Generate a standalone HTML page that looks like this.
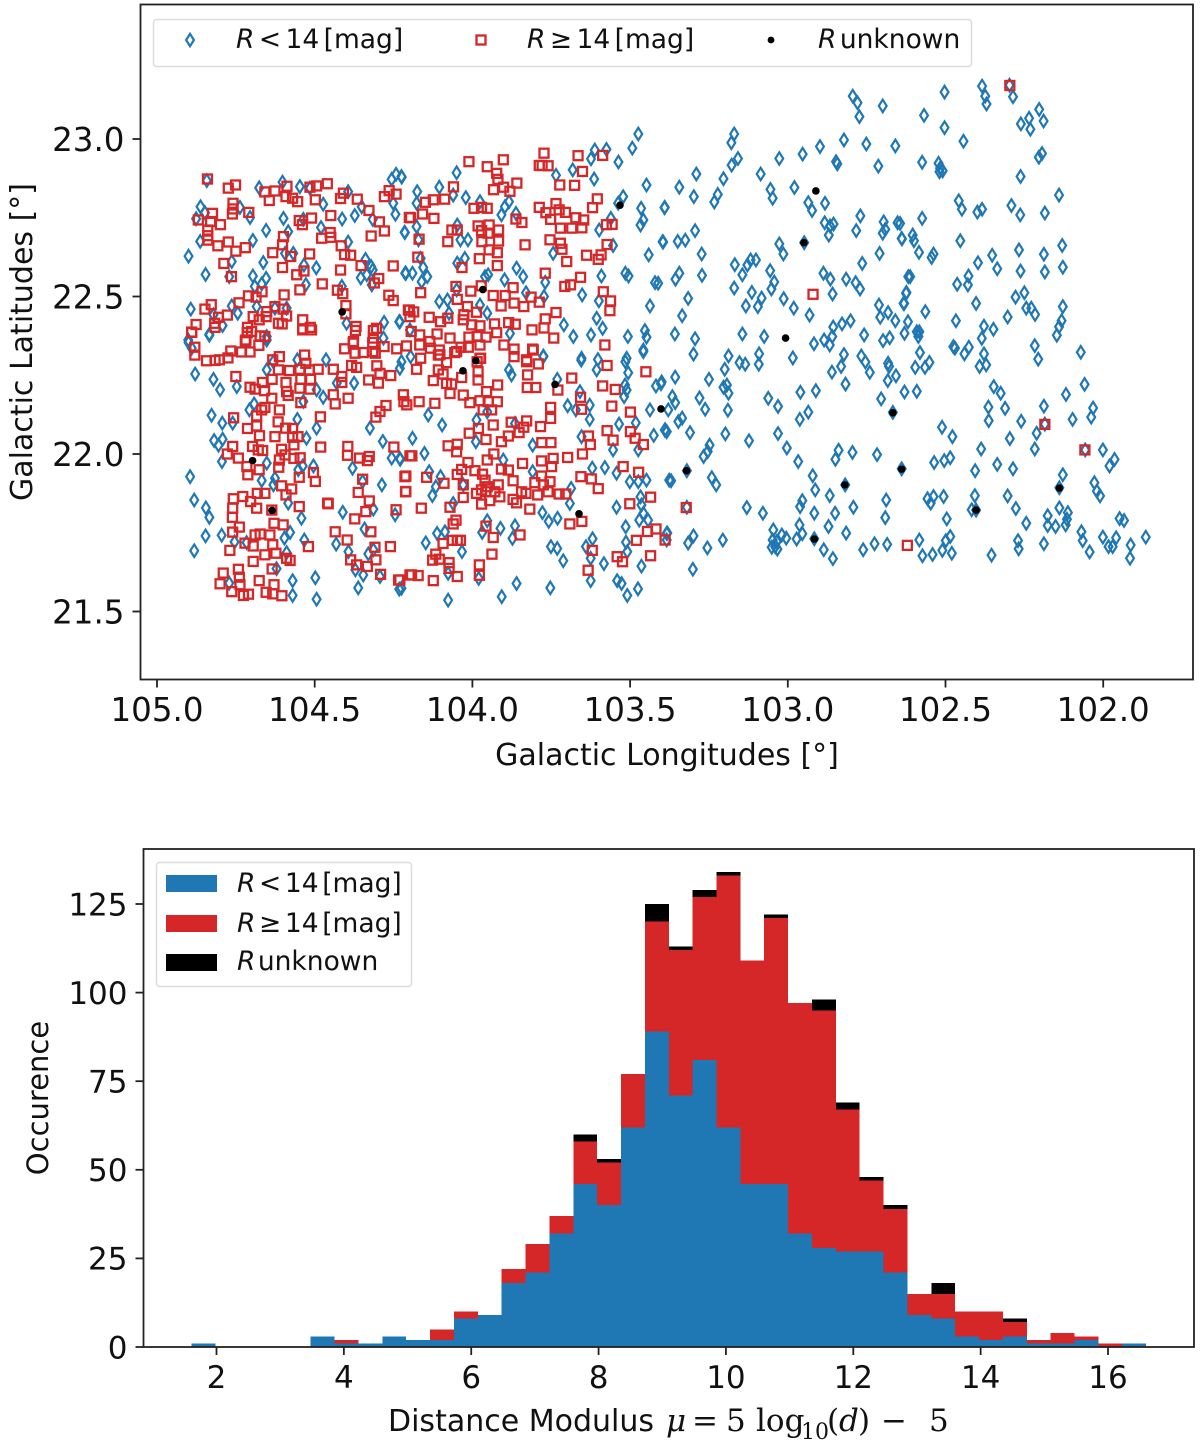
<!DOCTYPE html>
<html lang="en">
<head>
<meta charset="utf-8">
<title>Galactic positions and distance modulus histogram</title>
<style>
html,body{margin:0;padding:0;background:#fff;}
svg{display:block;font-family:"DejaVu Sans","Liberation Sans",sans-serif;fill:#111;}
.math{font-family:"DejaVu Serif","Liberation Serif",serif;}
</style>
</head>
<body>
<svg id="figure" xmlns="http://www.w3.org/2000/svg" width="1200" height="1445" viewBox="0 0 1200 1445">
  <rect x="0" y="0" width="1200" height="1445" fill="#fff"/>
  <g id="scatter-panel"></g>
  <g id="hist-panel"></g>

  <g>
    <rect x="153.5" y="19.5" width="818" height="47" rx="3" fill="#fff" fill-opacity="0.9" stroke="#dcdcdc" stroke-width="1.5"/>
    <path d="M190 33.8 L193.9 40 L190 46.2 L186.1 40 Z" fill="none" stroke="#1f77b4" stroke-width="2.2"/>
    <text x="236" y="48" font-size="26.5" word-spacing="-4"><tspan font-style="italic">R</tspan> &lt; 14 [mag]</text>
    <rect x="476.5" y="35.5" width="9" height="9" fill="none" stroke="#d62728" stroke-width="2.3"/>
    <text x="527" y="48" font-size="26.5" word-spacing="-4"><tspan font-style="italic">R</tspan> ≥ 14 [mag]</text>
    <circle cx="771" cy="40" r="3.4" fill="#000"/>
    <text x="818" y="48" font-size="26.5" word-spacing="-5"><tspan font-style="italic">R</tspan> unknown</text>
  </g>

  <text x="667" y="765" font-size="30" text-anchor="middle">Galactic Longitudes [°]</text>
  <text transform="translate(32,342) rotate(-90)" font-size="30" text-anchor="middle">Galactic Latitudes [°]</text>

  <g>
    <rect x="156.5" y="862.5" width="255" height="124" rx="3" fill="#fff" fill-opacity="0.9" stroke="#dcdcdc" stroke-width="1.5"/>
    <rect x="166" y="875" width="51" height="17" fill="#1f77b4"/>
    <text x="237" y="892" font-size="26.5" word-spacing="-4.8"><tspan font-style="italic">R</tspan> &lt; 14 [mag]</text>
    <rect x="166" y="915" width="51" height="17" fill="#d62728"/>
    <text x="237" y="932" font-size="26.5" word-spacing="-4.8"><tspan font-style="italic">R</tspan> ≥ 14 [mag]</text>
    <rect x="166" y="954" width="51" height="17" fill="#000"/>
    <text x="237" y="970" font-size="26.5" word-spacing="-6"><tspan font-style="italic">R</tspan> unknown</text>
  </g>

  <text y="1431" font-size="31"><tspan x="388" font-size="30">Distance Modulus</tspan><tspan class="math" font-style="italic" x="666">μ</tspan><tspan class="math" x="692">=</tspan><tspan class="math" x="726">5</tspan><tspan class="math" x="756">log</tspan><tspan class="math" x="801" dy="8" font-size="22">10</tspan><tspan class="math" x="827" dy="-8">(</tspan><tspan class="math" font-style="italic" x="839">d</tspan><tspan class="math" x="858">)</tspan><tspan class="math" x="881">−</tspan><tspan class="math" x="929">5</tspan></text>
  <text transform="translate(48,1098) rotate(-90)" font-size="29" text-anchor="middle">Occurence</text>
</svg>

<script>
const scatterLonTicks = [105.0, 104.5, 104.0, 103.5, 103.0, 102.5, 102.0];
const scatterLatTicks = [23.0, 22.5, 22.0, 21.5];
const histXTicks = [2, 4, 6, 8, 10, 12, 14, 16];
const histYTicks = [0, 25, 50, 75, 100, 125];

const histFirstEdge = 1.606;
const histBinWidth = 0.3748;
const countsBright = [1,0,0,0,0,3,1,1,3,2,2,8,9,18,21,32,46,40,62,89,71,81,62,46,46,32,28,27,27,21,9,8,3,2,3,1,1,2,0,1];
const countsFaint = [0,0,0,0,0,0,1,0,0,0,3,2,0,4,8,5,12,12,15,31,41,46,71,63,75,65,67,40,20,18,6,7,7,8,4,1,3,1,1,0];
const countsUnknown = [0,0,0,0,0,0,0,0,0,0,0,0,0,0,0,0,2,1,0,5,1,2,1,0,1,0,3,2,1,1,0,3,0,0,1,0,0,0,0,0];

const unknownStars = [[103.532,22.790],[103.967,22.522],[104.413,22.451],[103.989,22.296],[104.030,22.264],[103.738,22.221],[103.402,22.143],[104.697,21.979],[104.635,21.821],[103.662,21.810],[103.321,21.947],[102.911,22.835],[102.949,22.671],[103.007,22.368],[102.667,22.131],[102.639,21.952],[102.819,21.902],[102.916,21.730],[102.403,21.822],[102.139,21.892]];

const brightStars = [
[104.842,22.868],[104.602,22.863],[104.676,22.845],[104.547,22.849],[104.515,22.844],[104.256,22.872],[104.242,22.888],[104.224,22.879],[104.862,22.785],[104.737,22.783],[104.876,22.747],[104.848,22.766],[104.705,22.751],[104.599,22.748],[104.473,22.793],[104.394,22.833],[104.373,22.757],[104.413,22.746],[104.351,22.785],[104.316,22.745],[104.251,22.796],[104.244,22.761],[104.654,22.710],[104.536,22.745],[104.480,22.719],[104.584,22.706],[104.214,22.703],[104.863,22.675],[104.696,22.678],[104.394,22.673],[104.900,22.628],[104.763,22.611],[104.663,22.608],[104.568,22.637],[104.594,22.637],[104.846,22.570],[104.771,22.563],[104.534,22.600],[104.495,22.591],[104.696,22.565],[104.654,22.558],[104.668,22.540],[104.690,22.532],[104.339,22.618],[104.321,22.595],[104.316,22.584],[104.354,22.559],[104.335,22.569],[104.319,22.537],[104.213,22.574],[104.528,22.538],[104.414,22.532],[104.893,22.460],[104.763,22.470],[104.744,22.447],[104.821,22.442],[104.792,22.408],[104.684,22.468],[104.626,22.463],[104.589,22.463],[104.399,22.415],[104.280,22.418],[104.232,22.420],[104.834,22.380],[104.198,22.394],[104.652,22.373],[104.282,22.368],[104.901,22.362],
[104.900,22.354],[104.890,22.336],[104.834,22.377],[104.652,22.362],[104.879,22.254],[104.821,22.237],[104.800,22.204],[104.747,22.214],[104.652,22.267],[104.555,22.299],[104.464,22.299],[104.631,22.293],[104.430,22.225],[104.375,22.225],[104.494,22.204],[104.473,22.180],[104.536,22.167],[104.692,22.159],[104.707,22.140],[104.827,22.123],[104.793,22.098],[104.760,22.098],[104.555,22.110],[104.494,22.082],[104.325,22.082],[104.526,22.050],[104.284,22.040],[104.819,22.043],[104.792,22.047],[104.805,22.028],[104.794,21.976],[104.652,21.971],[104.538,21.962],[104.504,21.962],[104.256,21.987],[104.229,21.983],[104.380,21.955],[104.895,21.928],[104.626,21.923],[104.631,21.902],[104.668,21.916],[104.552,21.950],[104.348,21.913],[104.287,21.902],[104.882,21.854],[104.845,21.829],[104.834,21.799],[104.584,21.844],[104.542,21.796],[104.411,21.815],[104.314,21.825],[104.245,21.807],[104.342,21.762],[104.846,21.740],[104.795,21.742],[104.754,21.721],[104.716,21.719],[104.578,21.751],[104.596,21.733],[104.533,21.727],[104.432,21.714],[104.393,21.690],[104.314,21.696],[104.330,21.683],[104.882,21.693],[104.589,21.687],[104.621,21.636],[104.371,21.632],[104.346,21.616],[104.293,21.611],[104.570,21.598],[104.498,21.607],[104.771,21.590],[104.362,21.575],[104.232,21.571],[104.570,21.551],[104.494,21.539],
[103.474,23.016],[103.493,22.971],[103.575,22.967],[103.612,22.965],[103.624,22.937],[103.537,22.927],[104.050,22.893],[104.225,22.881],[103.735,22.885],[103.682,22.902],[103.614,22.873],[103.448,22.854],[104.175,22.833],[104.105,22.847],[104.061,22.822],[104.021,22.814],[103.522,22.817],[103.538,22.796],[103.976,22.801],[103.884,22.801],[103.897,22.785],[103.908,22.759],[103.862,22.764],[104.177,22.796],[103.391,22.782],[103.465,22.780],[103.458,22.743],[103.467,22.727],[104.215,22.704],[104.177,22.722],[103.561,22.748],[103.598,22.711],[104.048,22.727],[104.038,22.680],[104.014,22.680],[103.397,22.674],[104.171,22.680],[103.744,22.637],[103.554,22.662],[103.441,22.632],[104.164,22.621],[104.048,22.606],[104.024,22.621],[104.156,22.592],[104.211,22.574],[104.190,22.574],[104.143,22.563],[103.860,22.590],[103.839,22.563],[104.161,22.547],[103.950,22.569],[103.960,22.563],[103.898,22.553],[103.769,22.545],[103.591,22.565],[103.515,22.574],[103.505,22.565],[103.421,22.544],[103.411,22.542],[104.050,22.521],[104.105,22.484],[104.079,22.489],[103.830,22.512],[103.773,22.500],[103.652,22.505],[103.599,22.486],[103.437,22.470],[103.976,22.473],[103.953,22.447],[103.606,22.431],[103.587,22.399],[103.710,22.410],[103.680,22.373],[103.624,22.378],[103.507,22.373],[103.453,22.392],[103.448,22.371],[103.458,22.330],[104.074,22.447],[103.881,22.383],[104.230,22.420],[103.775,22.309],[103.511,22.304],[103.654,22.304],
[104.196,22.309],[104.225,22.293],[104.230,22.272],[103.655,22.298],[103.602,22.300],[103.515,22.293],[103.506,22.258],[103.458,22.325],[103.606,22.267],[103.884,22.267],[103.876,22.251],[103.775,22.311],[103.731,22.237],[103.659,22.198],[103.698,22.153],[103.628,22.155],[103.516,22.219],[103.511,22.203],[103.519,22.182],[103.418,22.216],[103.400,22.229],[103.437,22.140],[104.140,22.124],[104.096,22.092],[103.628,22.110],[103.672,22.140],[103.535,22.095],[103.482,22.099],[103.390,22.076],[103.384,22.071],[103.425,22.059],[103.987,22.108],[103.953,22.134],[103.865,22.097],[104.190,22.050],[104.152,22.002],[104.230,21.986],[103.989,22.039],[103.809,22.028],[103.654,22.055],[103.554,22.013],[103.474,22.013],[103.902,21.981],[103.620,21.955],[103.580,21.957],[103.543,21.939],[104.137,21.944],[104.101,21.928],[104.029,21.902],[104.116,21.896],[104.127,21.868],[104.061,21.843],[103.809,21.944],[103.687,21.891],[103.691,21.843],[103.501,21.912],[103.474,21.912],[103.448,21.917],[103.376,21.917],[103.543,21.831],[103.467,21.864],[103.464,21.838],[103.458,21.812],[103.471,21.790],[103.443,21.790],[103.778,21.814],[103.758,21.786],[103.730,21.796],[103.953,21.788],[103.911,21.764],[103.865,21.772],[103.873,21.732],[103.969,21.751],[104.112,21.748],[104.087,21.753],[104.148,21.718],[103.514,21.769],[103.513,21.720],[103.384,21.748],[103.619,21.731],[103.640,21.706],[103.751,21.706],[103.731,21.700],[103.712,21.661],[104.033,21.690],[103.509,21.690],[103.583,21.652],[103.625,21.669],[103.464,21.644],[103.541,21.598],[103.527,21.589],[103.509,21.551],[103.475,21.572],[103.625,21.598],[103.860,21.589],[103.753,21.575],[103.907,21.547],[104.077,21.536],[103.980,21.605],[104.077,21.621],[104.225,21.574],
[102.794,23.136],[102.779,23.115],[102.699,23.105],[102.773,23.071],[103.170,23.016],[103.179,22.988],[102.822,22.997],[102.898,22.976],[102.953,22.952],[102.751,22.984],[102.659,22.978],[103.027,22.938],[103.158,22.938],[103.178,22.917],[102.713,22.914],[102.847,22.928],[102.843,22.921],[103.290,22.889],[103.086,22.889],[103.204,22.874],[103.344,22.847],[102.979,22.846],[103.055,22.840],[103.298,22.817],[103.048,22.812],[103.222,22.824],[103.233,22.800],[102.935,22.798],[102.882,22.796],[103.390,22.783],[102.923,22.773],[102.770,22.756],[102.883,22.734],[102.855,22.730],[102.866,22.724],[102.696,22.737],[102.652,22.734],[102.783,22.709],[102.691,22.713],[102.699,22.701],[103.294,22.709],[102.870,22.695],[102.639,22.684],[103.395,22.673],[103.349,22.675],[103.325,22.679],[103.027,22.667],[102.948,22.671],[103.273,22.635],[103.014,22.635],[102.709,22.637],[103.168,22.601],[103.118,22.616],[103.101,22.616],[103.128,22.600],[103.144,22.569],[102.764,22.605],[103.056,22.582],[102.887,22.574],[103.344,22.574],[103.356,22.555],[103.272,22.567],[102.865,22.555],[102.815,22.555],[102.785,22.544],[102.771,22.524],[103.043,22.546],[103.052,22.524],[102.618,22.563],[103.170,22.527],[103.114,22.513],[102.858,22.508],[103.316,22.494],[103.083,22.495],[103.013,22.493],[102.625,22.510],[102.633,22.478],[103.133,22.470],[103.095,22.468],[102.981,22.463],[102.711,22.473],[102.682,22.449],[103.335,22.439],[102.931,22.441],[102.707,22.434],[102.659,22.423],[102.801,22.423],[102.828,22.413],[102.856,22.403],
[103.358,22.381],[103.294,22.366],[103.144,22.381],[103.075,22.373],[102.917,22.350],[102.885,22.362],[102.859,22.373],[102.867,22.346],[102.758,22.378],[102.698,22.360],[102.677,22.369],[102.630,22.383],[103.299,22.317],[103.188,22.311],[103.091,22.318],[103.153,22.290],[103.135,22.285],[103.092,22.285],[102.984,22.305],[102.822,22.316],[102.767,22.311],[102.754,22.292],[103.200,22.269],[102.831,22.278],[102.860,22.260],[102.740,22.259],[102.682,22.288],[102.679,22.278],[102.657,22.248],[102.683,22.233],[103.357,22.244],[103.250,22.237],[103.402,22.223],[103.204,22.212],[103.193,22.219],[103.188,22.193],[102.817,22.222],[102.960,22.196],[102.911,22.201],[102.630,22.197],[103.366,22.182],[103.280,22.178],[103.357,22.163],[103.062,22.177],[103.031,22.151],[102.704,22.175],[103.262,22.142],[103.190,22.139],[102.935,22.133],[103.379,22.140],[102.667,22.132],[102.962,22.110],[103.335,22.114],[103.347,22.103],[103.389,22.077],[103.384,22.071],[103.310,22.068],[103.198,22.064],[103.031,22.065],[103.123,22.042],[103.248,22.028],[103.003,22.019],[103.267,21.992],[103.254,22.008],[102.839,22.012],[102.849,21.983],[102.795,22.005],[102.717,21.998],[102.967,21.976],[102.639,21.953],[103.320,21.947],[103.370,21.915],[103.241,21.925],[103.227,21.902],[102.921,21.931],[102.818,21.902],[102.913,21.886],[102.867,21.868],[102.688,21.854],[102.954,21.852],[102.961,21.833],[103.130,21.830],[103.079,21.812],[102.916,21.812],[102.850,21.812],[102.792,21.831],[102.691,21.798],[103.320,21.831],[102.963,21.775],[102.871,21.770],[102.815,21.749],[102.954,21.747],[103.046,21.759],[103.019,21.743],[103.005,21.733],[103.035,21.722],[103.048,21.727],[103.040,21.706],[103.051,21.704],[103.033,21.698],[102.972,21.730],[102.916,21.731],[103.382,21.749],[103.384,21.727],[103.299,21.740],[103.316,21.717],[103.206,21.727],[103.255,21.702],[102.886,21.696],[102.857,21.668],[102.761,21.696],[102.725,21.715],[102.685,21.713],[103.301,21.634],
[102.503,23.149],[102.384,23.168],[102.297,23.171],[102.374,23.136],[102.370,23.111],[102.286,23.134],[102.568,23.075],[102.203,23.094],[102.189,23.057],[102.235,23.066],[102.261,23.048],[102.231,23.031],[102.503,23.036],[102.443,22.993],[102.574,22.926],[102.194,22.954],[102.204,22.942],[102.522,22.923],[102.517,22.907],[102.509,22.899],[102.519,22.896],[102.262,22.881],[102.140,22.822],[102.458,22.804],[102.448,22.777],[102.384,22.777],[102.399,22.768],[102.291,22.789],[102.263,22.759],[102.185,22.765],[102.574,22.748],[102.644,22.732],[102.638,22.683],[102.604,22.695],[102.600,22.677],[102.453,22.677],[102.130,22.662],[102.267,22.648],[102.584,22.640],[102.188,22.634],[102.538,22.635],[102.544,22.624],[102.352,22.631],[102.397,22.607],[102.336,22.588],[102.262,22.581],[102.128,22.593],[102.185,22.578],[102.612,22.563],[102.427,22.565],[102.463,22.539],[102.429,22.537],[102.624,22.513],[102.250,22.512],[102.278,22.498],[102.631,22.478],[102.403,22.478],[102.128,22.468],[102.244,22.463],[102.228,22.463],[102.216,22.443],[102.303,22.435],[102.564,22.452],[102.467,22.423],[102.619,22.420],[102.378,22.406],[102.348,22.396],[102.132,22.423],[102.140,22.404],[102.591,22.388],[102.583,22.388],[102.586,22.373],[102.385,22.367],
[102.147,22.377],[102.217,22.344],[102.475,22.341],[102.470,22.336],[102.426,22.339],[102.440,22.318],[102.581,22.322],[102.378,22.318],[102.071,22.323],[102.206,22.301],[102.551,22.291],[102.596,22.275],[102.565,22.275],[102.392,22.278],[102.371,22.283],[102.591,22.199],[102.059,22.221],[102.347,22.214],[102.325,22.193],[102.118,22.189],[102.364,22.149],[102.311,22.145],[102.188,22.152],[102.032,22.146],[102.038,22.117],[102.097,22.110],[102.363,22.106],[102.260,22.104],[102.185,22.095],[102.511,22.085],[102.478,22.055],[102.211,22.066],[102.296,22.049],[102.387,22.016],[102.217,22.016],[102.001,22.013],[102.057,22.013],[101.964,21.983],[101.980,21.962],[102.536,21.973],[102.504,21.979],[102.485,21.988],[102.336,21.967],[102.286,21.953],[102.406,21.947],[102.128,21.934],[102.139,21.893],[102.028,21.909],[102.020,21.882],[102.010,21.867],[102.557,21.858],[102.547,21.844],[102.538,21.865],[102.506,21.865],[102.407,21.868],[102.303,21.867],[102.277,21.827],[102.139,21.829],[102.112,21.814],[102.417,21.823],[102.403,21.822],[102.496,21.794],[102.176,21.804],[102.244,21.780],[102.115,21.793],[102.119,21.775],[102.176,21.773],[102.151,21.770],[101.948,21.795],[101.934,21.789],[102.069,21.753],[102.065,21.725],[102.001,21.736],[101.959,21.734],[101.983,21.706],[101.970,21.706],[101.913,21.711],[101.865,21.736],[102.583,21.727],[102.485,21.738],[102.499,21.725],[102.270,21.725],[102.268,21.699],[102.188,21.715],[102.510,21.694],[102.480,21.685],[102.573,21.677],[102.541,21.681],[102.354,21.679],[102.043,21.689],[101.915,21.669]
];

const faintStars = [
[104.840,22.873],[104.774,22.844],[104.751,22.854],[104.658,22.832],[104.626,22.835],[104.588,22.850],[104.644,22.805],[104.591,22.817],[104.570,22.812],[104.554,22.801],[104.515,22.847],[104.494,22.851],[104.460,22.858],[104.498,22.807],[104.409,22.828],[104.418,22.811],[104.365,22.809],[104.279,22.817],[104.264,22.836],[104.242,22.825],[104.759,22.796],[104.759,22.778],[104.761,22.762],[104.709,22.767],[104.824,22.764],[104.869,22.743],[104.830,22.738],[104.799,22.728],[104.839,22.711],[104.839,22.693],[104.839,22.679],[104.807,22.661],[104.774,22.673],[104.750,22.644],[104.720,22.655],[104.328,22.773],[104.295,22.737],[104.279,22.708],[104.321,22.692],[104.200,22.751],[104.549,22.741],[104.539,22.728],[104.510,22.749],[104.449,22.757],[104.451,22.703],[104.449,22.688],[104.478,22.685],[104.599,22.690],[104.602,22.664],[104.633,22.639],[104.576,22.627],[104.516,22.635],[104.416,22.661],[104.405,22.633],[104.386,22.631],[104.353,22.598],[104.251,22.597],[104.788,22.605],[104.764,22.563],[104.602,22.592],[104.557,22.569],[104.534,22.581],[104.418,22.584],[104.476,22.540],[104.297,22.557],[104.311,22.543],[104.547,22.521],[104.428,22.520],[104.411,22.509],[104.265,22.504],[104.251,22.487],[104.597,22.505],[104.667,22.515],[104.710,22.502],[104.686,22.498],[104.740,22.480],[104.828,22.474],[104.848,22.460],[104.401,22.471],[104.401,22.445],[104.805,22.434],[104.817,22.415],[104.816,22.402],[104.777,22.441],[104.876,22.411],[104.890,22.387],[104.695,22.436],[104.652,22.452],[104.654,22.436],[104.676,22.426],[104.626,22.468],[104.600,22.460],[104.589,22.438],[104.615,22.415],[104.603,22.413],[104.538,22.426],[104.538,22.397],[104.514,22.402],[104.713,22.402],[104.700,22.389],[104.369,22.405],[104.304,22.399],[104.314,22.392],[104.203,22.457],[104.198,22.436],[104.718,22.362],[104.658,22.373],[104.377,22.357],[104.314,22.368],
[104.890,22.386],[104.880,22.339],[104.880,22.314],[104.843,22.296],[104.816,22.297],[104.802,22.299],[104.775,22.305],[104.766,22.327],[104.732,22.324],[104.705,22.324],[104.720,22.359],[104.677,22.345],[104.673,22.375],[104.714,22.385],[104.612,22.309],[104.633,22.299],[104.538,22.394],[104.510,22.394],[104.371,22.392],[104.405,22.334],[104.378,22.352],[104.372,22.320],[104.346,22.322],[104.316,22.325],[104.316,22.354],[104.308,22.320],[104.280,22.341],[104.240,22.334],[104.293,22.256],[104.303,22.280],[104.259,22.249],[104.298,22.225],[104.329,22.235],[104.383,22.281],[104.367,22.275],[104.532,22.314],[104.528,22.288],[104.750,22.246],[104.705,22.212],[104.689,22.206],[104.666,22.227],[104.659,22.201],[104.635,22.237],[104.636,22.177],[104.615,22.267],[104.580,22.265],[104.547,22.269],[104.517,22.267],[104.489,22.269],[104.441,22.269],[104.414,22.246],[104.414,22.227],[104.441,22.188],[104.435,22.159],[104.394,22.177],[104.513,22.237],[104.544,22.237],[104.591,22.227],[104.589,22.198],[104.584,22.186],[104.547,22.209],[104.515,22.206],[104.544,22.163],[104.668,22.140],[104.658,22.148],[104.612,22.140],[104.684,22.121],[104.757,22.115],[104.713,22.081],[104.684,22.089],[104.675,22.058],[104.616,22.102],[104.626,22.055],[104.592,22.082],[104.570,22.081],[104.553,22.055],[104.570,22.053],[104.566,22.029],[104.605,22.015],[104.594,21.997],[104.482,22.118],[104.481,22.022],[104.760,22.024],[104.697,22.024],[104.679,22.013],[104.665,22.011],[104.777,22.000],[104.742,21.987],[104.715,21.960],[104.712,21.934],[104.676,21.950],[104.612,21.981],[104.614,21.958],[104.546,21.988],[104.566,21.986],[104.395,22.024],[104.396,21.996],[104.358,21.987],[104.327,21.992],[104.333,21.979],[104.306,22.117],[104.293,22.135],[104.274,22.154],[104.219,22.188],[104.208,22.156],[104.249,22.022],[104.198,21.994],[104.549,21.926],[104.504,21.941],[104.498,21.913],[104.605,21.899],[104.573,21.889],[104.591,21.870],[104.549,21.833],[104.459,21.844],[104.457,21.842],[104.348,21.920],[104.362,21.878],[104.327,21.851],[104.338,21.817],[104.373,21.794],[104.214,21.928],[104.212,21.880],[104.242,21.823],
[104.758,21.858],[104.760,21.828],[104.761,21.799],[104.728,21.865],[104.703,21.849],[104.682,21.875],[104.658,21.875],[104.684,21.828],[104.636,21.822],[104.629,21.780],[104.600,21.775],[104.739,21.768],[104.760,21.752],[104.435,21.753],[104.397,21.727],[104.322,21.753],[104.309,21.704],[104.260,21.706],[104.520,21.706],[104.769,21.694],[104.721,21.717],[104.695,21.708],[104.689,21.743],[104.673,21.746],[104.642,21.743],[104.633,21.712],[104.658,21.680],[104.623,21.685],[104.695,21.659],[104.589,21.669],[104.578,21.662],[104.306,21.664],[104.386,21.664],[104.367,21.648],[104.333,21.643],[104.291,21.618],[104.635,21.635],[104.742,21.634],[104.790,21.622],[104.800,21.588],[104.739,21.609],[104.737,21.585],[104.676,21.598],[104.629,21.585],[104.654,21.561],[104.633,21.556],[104.604,21.550],[104.726,21.551],[104.710,21.555],[104.763,21.563],[104.234,21.600],[104.198,21.616],
[103.773,22.955],[104.011,22.928],[103.902,22.934],[103.953,22.912],[103.923,22.891],[103.919,22.872],[103.779,22.916],[103.760,22.915],[103.788,22.916],[103.665,22.947],[103.587,22.948],[103.651,22.897],[103.723,22.854],[103.676,22.853],[104.060,22.848],[103.933,22.839],[103.901,22.847],[103.859,22.860],[103.881,22.834],[104.124,22.807],[104.088,22.809],[104.149,22.799],[104.158,22.762],[104.122,22.748],[104.196,22.750],[103.995,22.780],[103.971,22.783],[103.953,22.780],[103.788,22.783],[103.735,22.795],[103.604,22.810],[103.619,22.782],[103.767,22.766],[103.725,22.775],[103.705,22.767],[103.752,22.745],[103.862,22.746],[103.843,22.735],[103.672,22.750],[103.647,22.743],[103.721,22.717],[103.685,22.717],[103.653,22.718],[103.575,22.728],[103.557,22.729],[104.065,22.711],[104.048,22.711],[103.982,22.724],[103.947,22.727],[103.917,22.711],[103.971,22.709],[103.950,22.701],[104.169,22.682],[104.078,22.674],[103.970,22.674],[103.917,22.676],[103.833,22.664],[103.754,22.680],[103.721,22.669],[103.716,22.650],[103.573,22.665],[103.947,22.648],[103.921,22.639],[103.638,22.631],[103.592,22.632],[103.601,22.618],[104.173,22.625],[103.978,22.620],[103.701,22.611],[103.921,22.598],[104.033,22.592],[103.769,22.574],[103.657,22.561],[103.689,22.537],[103.707,22.532],[104.052,22.532],[104.005,22.517],[103.972,22.534],[103.871,22.528],[104.164,22.512],[103.934,22.503],[103.896,22.503],[103.585,22.515],[103.562,22.486],[103.564,22.455],[104.048,22.491],[104.016,22.468],[103.909,22.470],[103.868,22.479],[103.837,22.468],[103.814,22.498],[103.788,22.482],[103.735,22.449],[104.200,22.457],[104.186,22.451],[103.987,22.450],[104.137,22.434],[104.078,22.431],[104.101,22.420],[104.027,22.442],[104.029,22.426],[103.930,22.413],[103.885,22.417],[103.864,22.412],[103.769,22.429],[103.773,22.400],[103.811,22.394],[103.976,22.407],[104.002,22.410],[104.194,22.389],[104.167,22.378],[104.112,22.381],[103.923,22.385],[103.742,22.368],[104.071,22.368],[104.011,22.371],[103.985,22.373],[103.957,22.371],[104.135,22.357],[103.580,22.346],[104.209,22.343],[104.167,22.346],[104.133,22.336],[104.105,22.330],[104.013,22.339],[104.036,22.339],[103.976,22.346],[103.900,22.346],[103.809,22.333],[103.868,22.333],[104.050,22.325],[104.164,22.304],[103.828,22.299],[103.976,22.304],[104.103,22.315],
[104.177,22.269],[104.124,22.233],[104.108,22.267],[104.093,22.254],[104.082,22.290],[104.108,22.314],[104.056,22.322],[104.066,22.222],[104.071,22.192],[104.029,22.187],[104.008,22.163],[104.082,22.224],[104.034,22.243],[103.982,22.235],[103.982,22.261],[103.985,22.293],[103.974,22.304],[103.920,22.219],[103.955,22.198],[103.976,22.169],[103.950,22.166],[103.921,22.166],[103.939,22.140],[103.966,22.140],[103.868,22.309],[103.828,22.293],[103.807,22.330],[103.791,22.286],[103.825,22.251],[103.826,22.211],[103.799,22.211],[103.685,22.241],[103.729,22.203],[103.573,22.281],[103.450,22.261],[103.587,22.216],[103.547,22.205],[103.558,22.152],[103.499,22.133],[103.499,22.071],[103.484,22.050],[103.458,22.030],[103.573,22.074],[103.554,22.044],[103.657,22.180],[103.654,22.142],[103.752,22.148],[103.752,22.113],[103.784,22.087],[103.632,22.057],[103.626,22.030],[103.651,22.000],[103.698,21.989],[103.780,22.036],[103.751,22.036],[103.828,22.105],[103.837,22.085],[103.852,22.068],[103.877,22.101],[103.934,22.092],[103.981,22.081],[104.010,22.066],[104.169,22.166],[104.119,22.161],[104.217,22.166],[103.886,22.057],[103.908,22.039],[103.957,22.046],[103.932,22.000],[103.953,21.981],[104.077,22.026],[104.048,22.031],[104.050,22.007],[104.192,21.994],[103.781,21.978],[103.744,21.986],[103.749,21.960],[103.841,21.970],[103.908,21.952],[103.886,21.949],[104.014,21.973],[104.034,21.951],[104.048,21.935],[103.992,21.947],[104.211,21.930],[104.145,21.926],[104.090,21.907],[103.968,21.936],[103.960,21.917],[103.871,21.915],[103.953,21.896],[103.918,21.902],[104.029,21.902],[104.211,21.881],[103.802,21.909],[103.781,21.930],[103.754,21.912],[103.775,21.902],[104.029,21.862],[103.987,21.875],[103.971,21.886],[103.957,21.880],[103.929,21.880],[103.913,21.864],[103.945,21.852],[103.971,21.841],[103.871,21.856],[103.844,21.880],[103.830,21.875],[103.860,21.845],[103.818,21.825],[103.793,21.870],[103.760,21.880],[103.725,21.873],[103.704,21.873],[104.162,21.828],[104.071,21.831],[104.052,21.790],[104.061,21.778],[103.957,21.771],[103.849,21.743],[103.934,21.735],[103.691,21.778],[103.653,21.786],[103.656,21.928],[103.623,21.921],[103.601,21.890],[103.522,21.960],[103.473,21.942],[103.435,21.863],[103.501,21.842],[103.445,21.754],[103.418,21.762],[103.480,21.726],[103.389,21.727],[104.093,21.716],[104.063,21.726],[104.048,21.726],[104.038,21.726],[103.938,21.682],[103.620,21.694],[103.541,21.674],[103.524,21.658],[103.435,21.677],[104.116,21.682],[104.126,21.663],[104.105,21.666],[104.074,21.655],[104.074,21.637],[103.978,21.648],[103.978,21.615],[103.633,21.631],[104.048,21.611],[104.124,21.598],[104.193,21.616],[104.172,21.614],[104.230,21.600],
[102.296,23.170],[103.322,21.830],[102.920,22.507],[102.185,22.094],[102.058,22.013],[102.621,21.710]
];

const NS = 'http://www.w3.org/2000/svg';
const scatterPanel = document.getElementById('scatter-panel');
const histPanel = document.getElementById('hist-panel');

function lonToX(lon) { return 157 + (105 - lon) * 315.4; }
function latToY(lat) { return 139 + (23 - lat) * 315; }
function muToX(mu) { return 216.5 + (mu - 2) * 63.68; }
function countToY(count) { return 1347 - count * 3.544; }

function svgEl(tag, parent, attrs) {
  const el = document.createElementNS(NS, tag);
  for (const key in attrs) el.setAttribute(key, attrs[key]);
  parent.appendChild(el);
  return el;
}

function drawFrame(parent, left, top, right, bottom) {
  const frame = svgEl('rect', parent, {x: left, y: top, width: right - left, height: bottom - top, fill: 'none', stroke: '#222', 'stroke-width': 1.8});
  
  
}

function drawXTick(parent, x, bottom, label, baseline, size) {
  const tick = svgEl('line', parent, {x1: x, x2: x, y1: bottom, y2: bottom + 8, stroke: '#222', 'stroke-width': 1.8});
  
  
  const text = svgEl('text', parent, {x: x, y: baseline, 'font-size': size, 'text-anchor': 'middle'});
  text.textContent = label;
  
  
}

function drawYTick(parent, y, left, label, size) {
  const tick = svgEl('line', parent, {x1: left - 8, x2: left, y1: y, y2: y, stroke: '#222', 'stroke-width': 1.8});
  
  
  const text = svgEl('text', parent, {x: left - 16, y: y + size * 0.365, 'font-size': size, 'text-anchor': 'end'});
  text.textContent = label;
  
  
}

/* scatter panel */
const scatterMarks = svgEl('g', scatterPanel, {});



brightStars.forEach(function (star) {
  const x = lonToX(star[0]);
  const y = latToY(star[1]);
  const el = svgEl('path', scatterMarks, {d: 'M' + x + ' ' + (y - 6.2) + 'L' + (x + 3.9) + ' ' + y + 'L' + x + ' ' + (y + 6.2) + 'L' + (x - 3.9) + ' ' + y + 'Z', fill: 'none', stroke: '#1f77b4', 'stroke-width': 2.2});
  
  
});

faintStars.forEach(function (star) {
  const x = lonToX(star[0]);
  const y = latToY(star[1]);
  const el = svgEl('rect', scatterMarks, {x: x - 4.5, y: y - 4.5, width: 9, height: 9, fill: 'none', stroke: '#d62728', 'stroke-width': 2.3});
  
  
});

unknownStars.forEach(function (star) {
  const el = svgEl('circle', scatterMarks, {cx: lonToX(star[0]), cy: latToY(star[1]), r: 3.8, fill: '#000'});
  
  
});

drawFrame(scatterPanel, 140.5, 4.5, 1193, 679.5);
scatterLonTicks.forEach(function (value) {
  drawXTick(scatterPanel, lonToX(value), 679.5, value.toFixed(1), 721, 32.5);
});
scatterLatTicks.forEach(function (value) {
  drawYTick(scatterPanel, latToY(value), 140.5, value.toFixed(1), 32.5);
});

/* histogram panel */
const histBars = svgEl('g', histPanel, {'shape-rendering': 'crispEdges'});



countsBright.forEach(function (bright, i) {
  const x0 = muToX(histFirstEdge + i * histBinWidth);
  const x1 = muToX(histFirstEdge + (i + 1) * histBinWidth);
  const faint = countsFaint[i];
  const unknown = countsUnknown[i];
  if (bright > 0) {
    const barBright = svgEl('rect', histBars, {x: x0, y: countToY(bright), width: x1 - x0, height: countToY(0) - countToY(bright), fill: '#1f77b4'});
    
    
  }
  if (faint > 0) {
    const barFaint = svgEl('rect', histBars, {x: x0, y: countToY(bright + faint), width: x1 - x0, height: countToY(bright) - countToY(bright + faint), fill: '#d62728'});
    
    
  }
  if (unknown > 0) {
    const barUnknown = svgEl('rect', histBars, {x: x0, y: countToY(bright + faint + unknown), width: x1 - x0, height: countToY(bright + faint) - countToY(bright + faint + unknown), fill: '#000'});
    
    
  }
});

drawFrame(histPanel, 143.5, 849, 1194, 1347);
histXTicks.forEach(function (value) {
  drawXTick(histPanel, muToX(value), 1347, String(value), 1388, 31);
});
histYTicks.forEach(function (value) {
  drawYTick(histPanel, countToY(value), 143.5, String(value), 31);
});
</script>
</body>
</html>
